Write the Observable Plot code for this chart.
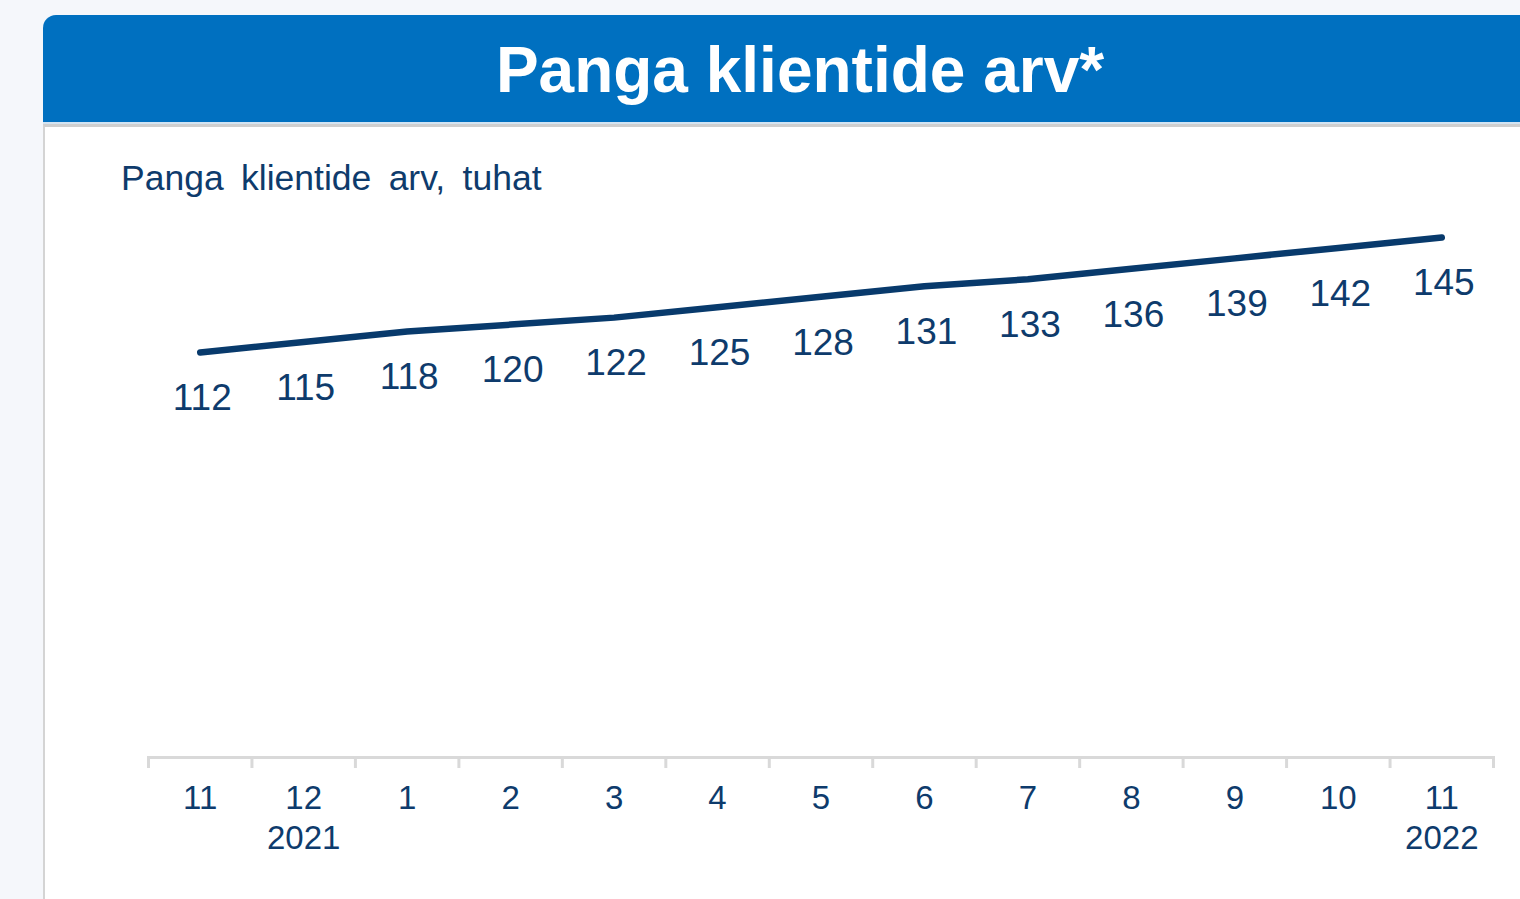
<!DOCTYPE html>
<html>
<head>
<meta charset="utf-8">
<script src="https://cdn.jsdelivr.net/npm/d3@7"></script>
<script src="https://cdn.jsdelivr.net/npm/@observablehq/plot@0.6"></script>
<style>
  html, body { margin: 0; padding: 0; }
  body { width: 1520px; height: 899px; overflow: hidden; background: #f5f7fb; position: relative; font-family: "Liberation Sans", Arial, sans-serif; }
  #card { position: absolute; left: 43px; top: 15px; width: 1514px; height: 900px; }
  #header { position: absolute; left: 0; top: 0; width: 100%; height: 107px; background: #0070c0; border-radius: 13px 0 0 0; }
  #header h1 { margin: 0; position: absolute; left: 0; right: 0; top: 23px; text-align: center; color: #fff; font: bold 64px "Liberation Sans", Arial, sans-serif; line-height: 1; }
  #sep1 { position: absolute; left: 0; top: 107px; width: 100%; height: 2px; background: #d3e4f2; }
  #panel { position: absolute; left: 0; top: 109px; width: 100%; height: 800px; background: #fff; border-top: 3px solid #cfcfcf; border-left: 2px solid #d4d4d4; box-sizing: border-box; }
  #subtitle { position: absolute; left: 121px; top: 158px; color: #0e3b6c; font: 35.5px "Liberation Sans", Arial, sans-serif; word-spacing: 7.5px; line-height: 40px; }
  #chart { position: absolute; left: 43px; top: 127px; }
</style>
</head>
<body>
<div id="card">
  <div id="header"><h1>Panga klientide arv*</h1></div>
  <div id="sep1"></div>
  <div id="panel"></div>
</div>
<div id="subtitle">Panga klientide arv, tuhat</div>
<div id="chart"></div>
<script>
const keys = ["2021-11","2021-12","2022-01","2022-02","2022-03","2022-04","2022-05","2022-06","2022-07","2022-08","2022-09","2022-10","2022-11"];
const months = ["11","12","1","2","3","4","5","6","7","8","9","10","11"];
const yearLabels = ["","2021","","","","","","","","","","","2022"];
const clients = [112,115,118,120,122,125,128,131,133,136,139,142,145];

const data = keys.map((k, i) => ({key: k, month: months[i], year: yearLabels[i], value: clients[i]}));

const W = 1477, H = 772, ML = 105, MR = 27, MT = 51, MB = 142;
const bw = (W - ML - MR) / keys.length;
const frameH = H - MT - MB;
const ink = "#0e3b6c";
const lineColor = "#083a6c";
const axisGray = "#d9d9d9";

const chart = Plot.plot({
  width: W,
  height: H,
  marginLeft: ML,
  marginRight: MR,
  marginTop: MT,
  marginBottom: MB,
  style: {fontFamily: "'Liberation Sans', Arial, sans-serif", background: "transparent", overflow: "visible"},
  x: {type: "band", domain: keys, padding: 0, round: false, axis: null},
  y: {domain: [0, 160], range: [615.3, 57.7], axis: null},
  marks: [
    Plot.frame({anchor: "bottom", stroke: axisGray, strokeWidth: 3}),
    Plot.ruleX(data, {x: "key", insetTop: frameH - 11, dy: 11, dx: -bw / 2, stroke: axisGray, strokeWidth: 3}),
    Plot.ruleX(data.slice(-1), {x: "key", insetTop: frameH - 11, dy: 11, dx: bw / 2, stroke: axisGray, strokeWidth: 3}),
    Plot.line(data, {x: "key", y: "value", stroke: lineColor, strokeWidth: 6.5, strokeLinecap: "round", strokeLinejoin: "round"}),
    Plot.text(data, {x: "key", y: "value", text: d => String(d.value), dy: 46, dx: 2, fontSize: 37, fill: ink, lineAnchor: "middle"}),
    Plot.text(data, {x: "key", frameAnchor: "bottom", text: d => d.year ? d.month + "\n" + d.year : d.month, dy: 23, fontSize: 33, lineHeight: 1.22, fill: ink, lineAnchor: "top"})
  ]
});
document.getElementById("chart").appendChild(chart);
</script>
</body>
</html>
